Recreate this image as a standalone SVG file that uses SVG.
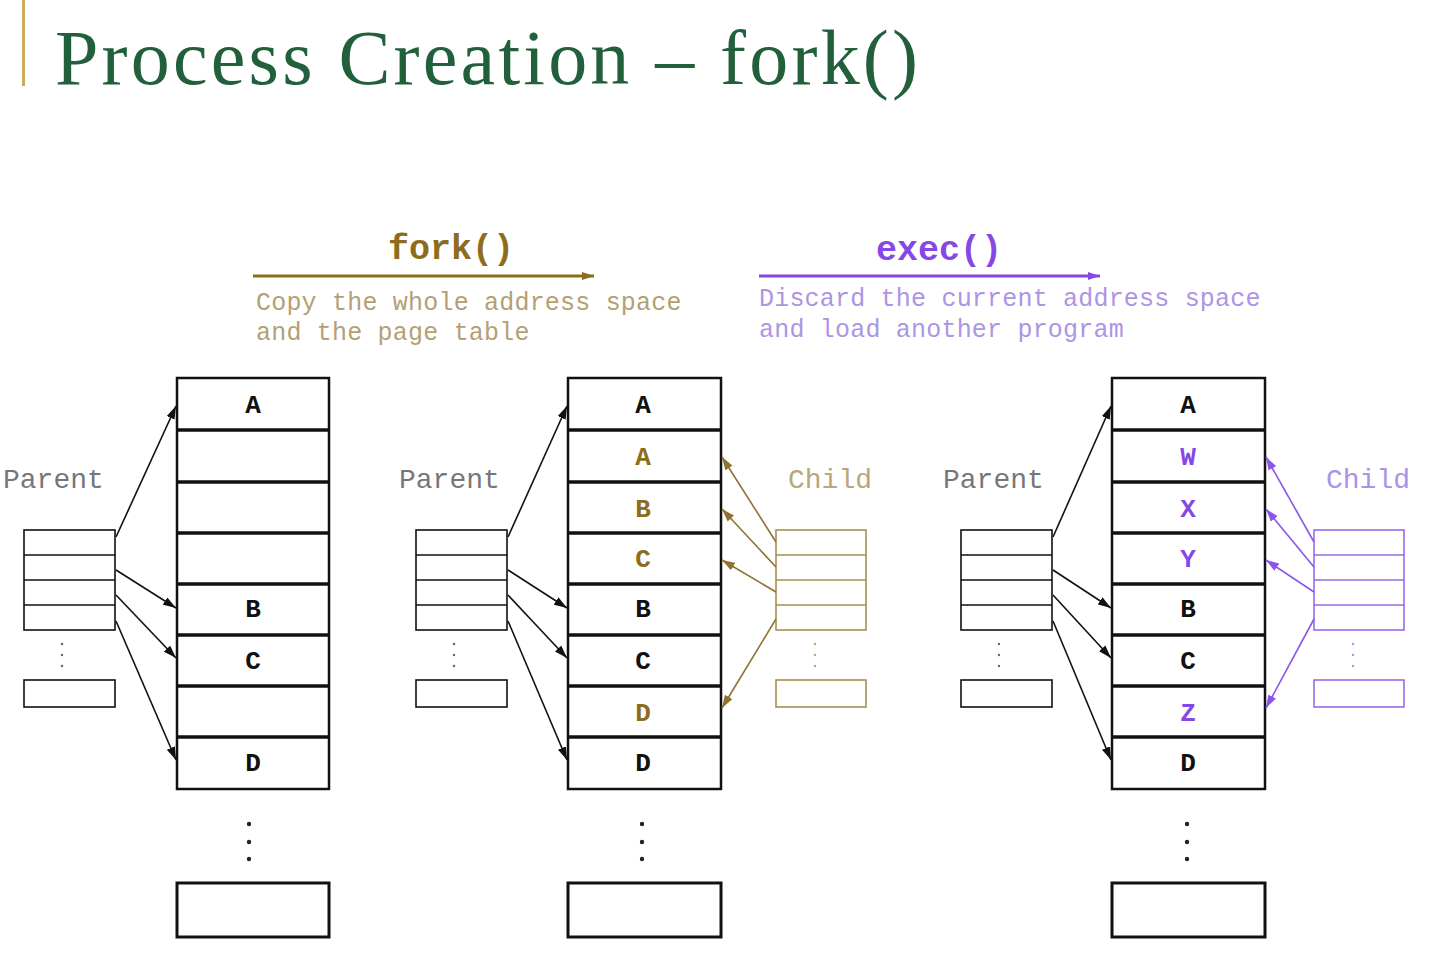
<svg xmlns="http://www.w3.org/2000/svg" width="1442" height="959" viewBox="0 0 1442 959">
<style>
.bg{fill:#ffffff}
.title{font-family:"Liberation Serif","Times New Roman",serif;font-size:78px;fill:#22603c}
.op{font-family:"Liberation Mono","Courier New",monospace;font-size:35px;font-weight:bold}
.desc{font-family:"Liberation Mono","Courier New",monospace;font-size:25px;letter-spacing:0.2px}
.lbl{font-family:"Liberation Mono","Courier New",monospace;font-size:28px}
.cell{font-family:"Liberation Mono","Courier New",monospace;font-size:26px;font-weight:bold;text-anchor:middle}
.mem{fill:#fff;stroke:#111;stroke-width:2.5}
.div{stroke:#111;stroke-width:3.5}
.pt{fill:#fff;stroke:#111;stroke-width:1.6}
.ptb{fill:#fff;stroke:#a88f4e;stroke-width:1.6}
.ptp{fill:#fff;stroke:#9a6ae8;stroke-width:1.6}
.pl{stroke:#111;stroke-width:1.6}
.plb{stroke:#a88f4e;stroke-width:1.6}
.plp{stroke:#9a6ae8;stroke-width:1.6}
.k{fill:#111}
.br{fill:#8d6c1c}
.pu{fill:#8547e6}
.ak{stroke:#111;stroke-width:1.6;fill:none;marker-end:url(#mk)}
.ab{stroke:#8f7230;stroke-width:1.6;fill:none;marker-end:url(#mb)}
.ap{stroke:#8a55ea;stroke-width:1.6;fill:none;marker-end:url(#mp)}
</style>
<defs>
<marker id="mk" viewBox="0 0 12 8" refX="12" refY="4" markerWidth="13" markerHeight="9" markerUnits="userSpaceOnUse" orient="auto"><path d="M0,0 L12,4 L0,8 z" fill="#111"/></marker>
<marker id="mb" viewBox="0 0 12 8" refX="12" refY="4" markerWidth="13" markerHeight="9" markerUnits="userSpaceOnUse" orient="auto"><path d="M0,0 L12,4 L0,8 z" fill="#8f7230"/></marker>
<marker id="mp" viewBox="0 0 12 8" refX="12" refY="4" markerWidth="13" markerHeight="9" markerUnits="userSpaceOnUse" orient="auto"><path d="M0,0 L12,4 L0,8 z" fill="#8a55ea"/></marker>
<marker id="mfork" viewBox="0 0 12 8" refX="12" refY="4" markerWidth="12" markerHeight="8" markerUnits="userSpaceOnUse" orient="auto"><path d="M0,0 L12,4 L0,8 z" fill="#8d6c1c"/></marker>
<marker id="mexec" viewBox="0 0 12 8" refX="12" refY="4" markerWidth="12" markerHeight="8" markerUnits="userSpaceOnUse" orient="auto"><path d="M0,0 L12,4 L0,8 z" fill="#8547e6"/></marker>
</defs>
<rect class="bg" x="0" y="0" width="1442" height="959"/>

<g id="title">
<rect x="22" y="0" width="3" height="86" fill="#c9a95a"/>
<text class="title" x="55" y="84" textLength="863" lengthAdjust="spacing">Process Creation – fork()</text>
</g>

<g id="fork-label">
<text class="op" x="388" y="259" fill="#8d6c1c">fork()</text>
<line x1="253" y1="276" x2="594" y2="276" stroke="#8d6c1c" stroke-width="3" marker-end="url(#mfork)"/>
<text class="desc" x="256" y="310" fill="#b4a074">Copy the whole address space</text>
<text class="desc" x="256" y="340" fill="#b4a074">and the page table</text>
</g>

<g id="exec-label">
<text class="op" x="876" y="260" fill="#8547e6">exec()</text>
<line x1="759" y1="276" x2="1100" y2="276" stroke="#8547e6" stroke-width="3" marker-end="url(#mexec)"/>
<text class="desc" x="759" y="306" fill="#ad94e4">Discard the current address space</text>
<text class="desc" x="759" y="337" fill="#ad94e4">and load another program</text>
</g>

<!-- Left diagram -->
<g id="left-parent-table">
<text class="lbl" x="3" y="488" fill="#777">Parent</text>
<rect class="pt" x="24" y="530" width="91" height="100"/>
<line class="pl" x1="24" y1="555" x2="115" y2="555"/>
<line class="pl" x1="24" y1="580" x2="115" y2="580"/>
<line class="pl" x1="24" y1="605" x2="115" y2="605"/>
<circle cx="62" cy="644" r="1.2" fill="#666"/><circle cx="62" cy="655" r="1.2" fill="#666"/><circle cx="62" cy="666" r="1.2" fill="#666"/>
<rect class="pt" x="24" y="680" width="91" height="27"/>
</g>
<g id="left-memory">
<rect class="mem" x="177" y="378" width="152" height="411"/>
<line class="div" x1="177" y1="430" x2="329" y2="430"/>
<line class="div" x1="177" y1="482" x2="329" y2="482"/>
<line class="div" x1="177" y1="533" x2="329" y2="533"/>
<line class="div" x1="177" y1="584" x2="329" y2="584"/>
<line class="div" x1="177" y1="635" x2="329" y2="635"/>
<line class="div" x1="177" y1="686" x2="329" y2="686"/>
<line class="div" x1="177" y1="737" x2="329" y2="737"/>
<text class="cell k" x="253" y="413">A</text>
<text class="cell k" x="253" y="617">B</text>
<text class="cell k" x="253" y="669">C</text>
<text class="cell k" x="253" y="771">D</text>
<circle cx="249" cy="824" r="2.2" fill="#222"/><circle cx="249" cy="842" r="2.2" fill="#222"/><circle cx="249" cy="859" r="2.2" fill="#222"/>
<rect class="mem" x="177" y="883" width="152" height="54" style="stroke-width:3"/>
</g>

<!-- Middle diagram -->
<g id="mid-parent-table">
<text class="lbl" x="399" y="488" fill="#777">Parent</text>
<rect class="pt" x="416" y="530" width="91" height="100"/>
<line class="pl" x1="416" y1="555" x2="507" y2="555"/>
<line class="pl" x1="416" y1="580" x2="507" y2="580"/>
<line class="pl" x1="416" y1="605" x2="507" y2="605"/>
<circle cx="454" cy="644" r="1.2" fill="#666"/><circle cx="454" cy="655" r="1.2" fill="#666"/><circle cx="454" cy="666" r="1.2" fill="#666"/>
<rect class="pt" x="416" y="680" width="91" height="27"/>
</g>
<g id="mid-memory">
<rect class="mem" x="568" y="378" width="153" height="411"/>
<line class="div" x1="568" y1="430" x2="721" y2="430"/>
<line class="div" x1="568" y1="482" x2="721" y2="482"/>
<line class="div" x1="568" y1="533" x2="721" y2="533"/>
<line class="div" x1="568" y1="584" x2="721" y2="584"/>
<line class="div" x1="568" y1="635" x2="721" y2="635"/>
<line class="div" x1="568" y1="686" x2="721" y2="686"/>
<line class="div" x1="568" y1="737" x2="721" y2="737"/>
<text class="cell k" x="643" y="413">A</text>
<text class="cell br" x="643" y="465">A</text>
<text class="cell br" x="643" y="517">B</text>
<text class="cell br" x="643" y="567">C</text>
<text class="cell k" x="643" y="617">B</text>
<text class="cell k" x="643" y="669">C</text>
<text class="cell br" x="643" y="721">D</text>
<text class="cell k" x="643" y="771">D</text>
<circle cx="642" cy="824" r="2.2" fill="#222"/><circle cx="642" cy="842" r="2.2" fill="#222"/><circle cx="642" cy="859" r="2.2" fill="#222"/>
<rect class="mem" x="568" y="883" width="153" height="54" style="stroke-width:3"/>
</g>
<g id="mid-child-table">
<text class="lbl" x="788" y="488" fill="#b8a77c">Child</text>
<rect class="ptb" x="776" y="530" width="90" height="100"/>
<line class="plb" x1="776" y1="555" x2="866" y2="555"/>
<line class="plb" x1="776" y1="580" x2="866" y2="580"/>
<line class="plb" x1="776" y1="605" x2="866" y2="605"/>
<circle cx="815" cy="644" r="1.2" fill="#b8a77c"/><circle cx="815" cy="655" r="1.2" fill="#b8a77c"/><circle cx="815" cy="666" r="1.2" fill="#b8a77c"/>
<rect class="ptb" x="776" y="680" width="90" height="27"/>
</g>

<!-- Right diagram -->
<g id="right-parent-table">
<text class="lbl" x="943" y="488" fill="#777">Parent</text>
<rect class="pt" x="961" y="530" width="91" height="100"/>
<line class="pl" x1="961" y1="555" x2="1052" y2="555"/>
<line class="pl" x1="961" y1="580" x2="1052" y2="580"/>
<line class="pl" x1="961" y1="605" x2="1052" y2="605"/>
<circle cx="999" cy="644" r="1.2" fill="#666"/><circle cx="999" cy="655" r="1.2" fill="#666"/><circle cx="999" cy="666" r="1.2" fill="#666"/>
<rect class="pt" x="961" y="680" width="91" height="27"/>
</g>
<g id="right-memory">
<rect class="mem" x="1112" y="378" width="153" height="411"/>
<line class="div" x1="1112" y1="430" x2="1265" y2="430"/>
<line class="div" x1="1112" y1="482" x2="1265" y2="482"/>
<line class="div" x1="1112" y1="533" x2="1265" y2="533"/>
<line class="div" x1="1112" y1="584" x2="1265" y2="584"/>
<line class="div" x1="1112" y1="635" x2="1265" y2="635"/>
<line class="div" x1="1112" y1="686" x2="1265" y2="686"/>
<line class="div" x1="1112" y1="737" x2="1265" y2="737"/>
<text class="cell k" x="1188" y="413">A</text>
<text class="cell pu" x="1188" y="465">W</text>
<text class="cell pu" x="1188" y="517">X</text>
<text class="cell pu" x="1188" y="567">Y</text>
<text class="cell k" x="1188" y="617">B</text>
<text class="cell k" x="1188" y="669">C</text>
<text class="cell pu" x="1188" y="721">Z</text>
<text class="cell k" x="1188" y="771">D</text>
<circle cx="1187" cy="824" r="2.2" fill="#222"/><circle cx="1187" cy="842" r="2.2" fill="#222"/><circle cx="1187" cy="859" r="2.2" fill="#222"/>
<rect class="mem" x="1112" y="883" width="153" height="54" style="stroke-width:3"/>
</g>
<g id="right-child-table">
<text class="lbl" x="1326" y="488" fill="#ab94e6">Child</text>
<rect class="ptp" x="1314" y="530" width="90" height="100"/>
<line class="plp" x1="1314" y1="555" x2="1404" y2="555"/>
<line class="plp" x1="1314" y1="580" x2="1404" y2="580"/>
<line class="plp" x1="1314" y1="605" x2="1404" y2="605"/>
<circle cx="1353" cy="644" r="1.2" fill="#ab94e6"/><circle cx="1353" cy="655" r="1.2" fill="#ab94e6"/><circle cx="1353" cy="666" r="1.2" fill="#ab94e6"/>
<rect class="ptp" x="1314" y="680" width="90" height="27"/>
</g>

<g id="connectors">
<path class="ak" d="M116,537 L176,406"/>
<path class="ak" d="M116,570 L176,608"/>
<path class="ak" d="M116,595 L176,658"/>
<path class="ak" d="M116,621 L176,760"/>

<path class="ak" d="M508,537 L567,406"/>
<path class="ak" d="M508,570 L567,608"/>
<path class="ak" d="M508,595 L567,658"/>
<path class="ak" d="M508,621 L567,760"/>
<path class="ab" d="M776,542 L722,457"/>
<path class="ab" d="M776,567 L722,509"/>
<path class="ab" d="M776,592 L722,560"/>
<path class="ab" d="M776,619 L722,708"/>

<path class="ak" d="M1053,537 L1111,406"/>
<path class="ak" d="M1053,570 L1111,608"/>
<path class="ak" d="M1053,595 L1111,658"/>
<path class="ak" d="M1053,621 L1111,760"/>
<path class="ap" d="M1314,542 L1266,457"/>
<path class="ap" d="M1314,567 L1266,509"/>
<path class="ap" d="M1314,592 L1266,560"/>
<path class="ap" d="M1314,619 L1266,708"/>
</g>
</svg>
